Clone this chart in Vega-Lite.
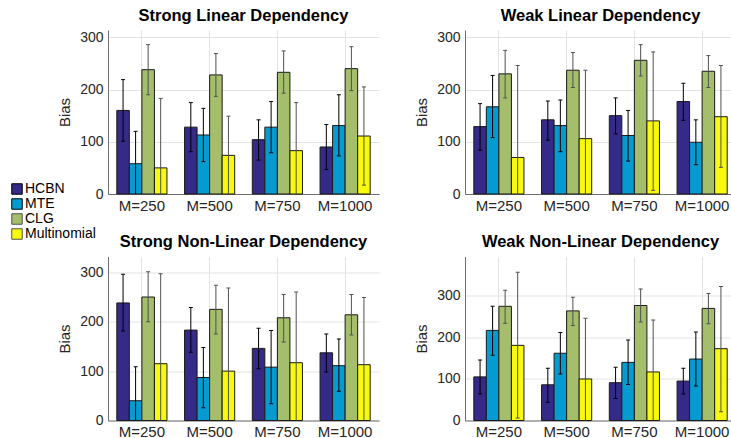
{
  "$schema": "https://vega.github.io/schema/vega-lite/v6.json",
  "padding": {"left": 10, "top": 7, "right": 0, "bottom": 0},
  "background": "white",
  "data": {"values": [
    {"p":"SL","m":"M=250","s":"HCBN","v":160,"lo":101,"hi":219},
    {"p":"SL","m":"M=250","s":"MTE","v":58,"lo":-4,"hi":120},
    {"p":"SL","m":"M=250","s":"CLG","v":238,"lo":190,"hi":286},
    {"p":"SL","m":"M=250","s":"Multinomial","v":50,"lo":-83,"hi":183},
    {"p":"SL","m":"M=500","s":"HCBN","v":128,"lo":81,"hi":175},
    {"p":"SL","m":"M=500","s":"MTE","v":113,"lo":62,"hi":164},
    {"p":"SL","m":"M=500","s":"CLG","v":228,"lo":187,"hi":269},
    {"p":"SL","m":"M=500","s":"Multinomial","v":74,"lo":-1,"hi":149},
    {"p":"SL","m":"M=750","s":"HCBN","v":104,"lo":65,"hi":142},
    {"p":"SL","m":"M=750","s":"MTE","v":128,"lo":79,"hi":177},
    {"p":"SL","m":"M=750","s":"CLG","v":233,"lo":193,"hi":274},
    {"p":"SL","m":"M=750","s":"Multinomial","v":83,"lo":-9,"hi":175},
    {"p":"SL","m":"M=1000","s":"HCBN","v":90,"lo":47,"hi":133},
    {"p":"SL","m":"M=1000","s":"MTE","v":131,"lo":73,"hi":190},
    {"p":"SL","m":"M=1000","s":"CLG","v":240,"lo":198,"hi":282},
    {"p":"SL","m":"M=1000","s":"Multinomial","v":111,"lo":17,"hi":205},
    {"p":"WL","m":"M=250","s":"HCBN","v":129,"lo":84,"hi":173},
    {"p":"WL","m":"M=250","s":"MTE","v":167,"lo":108,"hi":227},
    {"p":"WL","m":"M=250","s":"CLG","v":230,"lo":184,"hi":275},
    {"p":"WL","m":"M=250","s":"Multinomial","v":70,"lo":-105,"hi":246},
    {"p":"WL","m":"M=500","s":"HCBN","v":142,"lo":103,"hi":178},
    {"p":"WL","m":"M=500","s":"MTE","v":131,"lo":81,"hi":180},
    {"p":"WL","m":"M=500","s":"CLG","v":237,"lo":204,"hi":271},
    {"p":"WL","m":"M=500","s":"Multinomial","v":106,"lo":-25,"hi":237},
    {"p":"WL","m":"M=750","s":"HCBN","v":150,"lo":115,"hi":184},
    {"p":"WL","m":"M=750","s":"MTE","v":112,"lo":63,"hi":160},
    {"p":"WL","m":"M=750","s":"CLG","v":256,"lo":226,"hi":286},
    {"p":"WL","m":"M=750","s":"Multinomial","v":140,"lo":7,"hi":272},
    {"p":"WL","m":"M=1000","s":"HCBN","v":177,"lo":141,"hi":212},
    {"p":"WL","m":"M=1000","s":"MTE","v":99,"lo":56,"hi":142},
    {"p":"WL","m":"M=1000","s":"CLG","v":235,"lo":204,"hi":265},
    {"p":"WL","m":"M=1000","s":"Multinomial","v":148,"lo":51,"hi":246},
    {"p":"SNL","m":"M=250","s":"HCBN","v":238,"lo":181,"hi":296},
    {"p":"SNL","m":"M=250","s":"MTE","v":40,"lo":-29,"hi":109},
    {"p":"SNL","m":"M=250","s":"CLG","v":250,"lo":200,"hi":301},
    {"p":"SNL","m":"M=250","s":"Multinomial","v":115,"lo":-67,"hi":297},
    {"p":"SNL","m":"M=500","s":"HCBN","v":183,"lo":138,"hi":229},
    {"p":"SNL","m":"M=500","s":"MTE","v":87,"lo":26,"hi":148},
    {"p":"SNL","m":"M=500","s":"CLG","v":225,"lo":175,"hi":274},
    {"p":"SNL","m":"M=500","s":"Multinomial","v":100,"lo":-67,"hi":268},
    {"p":"SNL","m":"M=750","s":"HCBN","v":146,"lo":105,"hi":187},
    {"p":"SNL","m":"M=750","s":"MTE","v":108,"lo":34,"hi":182},
    {"p":"SNL","m":"M=750","s":"CLG","v":208,"lo":159,"hi":255},
    {"p":"SNL","m":"M=750","s":"Multinomial","v":117,"lo":-27,"hi":260},
    {"p":"SNL","m":"M=1000","s":"HCBN","v":137,"lo":98,"hi":175},
    {"p":"SNL","m":"M=1000","s":"MTE","v":111,"lo":59,"hi":165},
    {"p":"SNL","m":"M=1000","s":"CLG","v":214,"lo":173,"hi":255},
    {"p":"SNL","m":"M=1000","s":"Multinomial","v":113,"lo":-24,"hi":249},
    {"p":"WNL","m":"M=250","s":"HCBN","v":105,"lo":64,"hi":146},
    {"p":"WNL","m":"M=250","s":"MTE","v":217,"lo":157,"hi":275},
    {"p":"WNL","m":"M=250","s":"CLG","v":275,"lo":234,"hi":314},
    {"p":"WNL","m":"M=250","s":"Multinomial","v":181,"lo":6,"hi":357},
    {"p":"WNL","m":"M=500","s":"HCBN","v":86,"lo":44,"hi":126},
    {"p":"WNL","m":"M=500","s":"MTE","v":162,"lo":112,"hi":212},
    {"p":"WNL","m":"M=500","s":"CLG","v":264,"lo":229,"hi":297},
    {"p":"WNL","m":"M=500","s":"Multinomial","v":100,"lo":-47,"hi":246},
    {"p":"WNL","m":"M=750","s":"HCBN","v":91,"lo":53,"hi":128},
    {"p":"WNL","m":"M=750","s":"MTE","v":140,"lo":87,"hi":194},
    {"p":"WNL","m":"M=750","s":"CLG","v":277,"lo":237,"hi":317},
    {"p":"WNL","m":"M=750","s":"Multinomial","v":117,"lo":-8,"hi":242},
    {"p":"WNL","m":"M=1000","s":"HCBN","v":95,"lo":64,"hi":126},
    {"p":"WNL","m":"M=1000","s":"MTE","v":148,"lo":83,"hi":213},
    {"p":"WNL","m":"M=1000","s":"CLG","v":270,"lo":233,"hi":306},
    {"p":"WNL","m":"M=1000","s":"Multinomial","v":173,"lo":21,"hi":323}
  ]},
  "columns": 2,
  "spacing": {"row": 62.5, "column": 86},
  "bounds": "flush",
  "concat": [
    {
      "title": "Strong Linear Dependency",
      "width": 271, "height": 164,
      "transform": [{"filter": "datum.p === 'SL'"}],
      "encoding": {
        "x": {"field": "m", "type": "nominal", "sort": ["M=250","M=500","M=750","M=1000"], "scale": {"paddingInner": 0.26, "paddingOuter": 0.13}, "title": null},
        "xOffset": {"field": "s", "type": "nominal", "sort": ["HCBN","MTE","CLG","Multinomial"], "scale": {"paddingInner": 0, "paddingOuter": 0}}
      },
      "layer": [
        {"mark": {"type": "bar", "stroke": "#1a1a1a", "strokeWidth": 1},
         "encoding": {
           "y": {"field": "v", "type": "quantitative", "scale": {"domain": [0, 314], "nice": false}, "title": "Bias", "axis": {"values": [0, 100, 200, 300]}},
           "fill": {"field": "s", "type": "nominal", "sort": ["HCBN","MTE","CLG","Multinomial"], "scale": {"domain": ["HCBN","MTE","CLG","Multinomial"], "range": ["#352a87","#069bd0","#a5be6b","#f9f90d"]},
             "legend": {"title": null, "orient": "none", "legendX": -98, "legendY": 152, "symbolType": "square", "symbolSize": 110, "symbolStrokeColor": "#000", "symbolStrokeWidth": 1, "symbolOpacity": 1, "labelFontSize": 14, "labelColor": "#000", "rowPadding": -2, "labelOffset": 1, "padding": 0}}
         }},
        {"mark": {"type": "rule", "clip": true, "strokeWidth": 1},
         "encoding": {"y": {"field": "lo", "type": "quantitative"}, "y2": {"field": "hi"},
           "color": {"field": "s", "type": "nominal", "scale": {"domain": ["HCBN","MTE","CLG","Multinomial"], "range": ["#000000","#000000","#505050","#505050"]}, "legend": null}}},
        {"mark": {"type": "tick", "clip": true, "size": 4, "thickness": 1, "orient": "horizontal", "opacity": 1},
         "encoding": {"y": {"field": "hi", "type": "quantitative"},
           "color": {"field": "s", "type": "nominal", "legend": null}}},
        {"mark": {"type": "tick", "clip": true, "size": 4, "thickness": 1, "orient": "horizontal", "opacity": 1},
         "encoding": {"y": {"field": "lo", "type": "quantitative"},
           "color": {"field": "s", "type": "nominal", "legend": null}}}
      ]
    },
    {
      "title": "Weak Linear Dependency",
      "width": 271, "height": 164,
      "transform": [{"filter": "datum.p === 'WL'"}],
      "encoding": {
        "x": {"field": "m", "type": "nominal", "sort": ["M=250","M=500","M=750","M=1000"], "scale": {"paddingInner": 0.26, "paddingOuter": 0.13}, "title": null},
        "xOffset": {"field": "s", "type": "nominal", "sort": ["HCBN","MTE","CLG","Multinomial"], "scale": {"paddingInner": 0, "paddingOuter": 0}}
      },
      "layer": [
        {"mark": {"type": "bar", "stroke": "#1a1a1a", "strokeWidth": 1},
         "encoding": {
           "y": {"field": "v", "type": "quantitative", "scale": {"domain": [0, 314], "nice": false}, "title": "Bias", "axis": {"values": [0, 100, 200, 300]}},
           "fill": {"field": "s", "type": "nominal", "sort": ["HCBN","MTE","CLG","Multinomial"]}
         }},
        {"mark": {"type": "rule", "clip": true, "strokeWidth": 1},
         "encoding": {"y": {"field": "lo", "type": "quantitative"}, "y2": {"field": "hi"},
           "color": {"field": "s", "type": "nominal", "legend": null}}},
        {"mark": {"type": "tick", "clip": true, "size": 4, "thickness": 1, "orient": "horizontal", "opacity": 1},
         "encoding": {"y": {"field": "hi", "type": "quantitative"}, "color": {"field": "s", "type": "nominal", "legend": null}}},
        {"mark": {"type": "tick", "clip": true, "size": 4, "thickness": 1, "orient": "horizontal", "opacity": 1},
         "encoding": {"y": {"field": "lo", "type": "quantitative"}, "color": {"field": "s", "type": "nominal", "legend": null}}}
      ]
    },
    {
      "title": "Strong Non-Linear Dependency",
      "width": 271, "height": 164,
      "transform": [{"filter": "datum.p === 'SNL'"}],
      "encoding": {
        "x": {"field": "m", "type": "nominal", "sort": ["M=250","M=500","M=750","M=1000"], "scale": {"paddingInner": 0.26, "paddingOuter": 0.13}, "title": null},
        "xOffset": {"field": "s", "type": "nominal", "sort": ["HCBN","MTE","CLG","Multinomial"], "scale": {"paddingInner": 0, "paddingOuter": 0}}
      },
      "layer": [
        {"mark": {"type": "bar", "stroke": "#1a1a1a", "strokeWidth": 1},
         "encoding": {
           "y": {"field": "v", "type": "quantitative", "scale": {"domain": [0, 332], "nice": false}, "title": "Bias", "axis": {"values": [0, 100, 200, 300]}},
           "fill": {"field": "s", "type": "nominal", "sort": ["HCBN","MTE","CLG","Multinomial"]}
         }},
        {"mark": {"type": "rule", "clip": true, "strokeWidth": 1},
         "encoding": {"y": {"field": "lo", "type": "quantitative"}, "y2": {"field": "hi"},
           "color": {"field": "s", "type": "nominal", "legend": null}}},
        {"mark": {"type": "tick", "clip": true, "size": 4, "thickness": 1, "orient": "horizontal", "opacity": 1},
         "encoding": {"y": {"field": "hi", "type": "quantitative"}, "color": {"field": "s", "type": "nominal", "legend": null}}},
        {"mark": {"type": "tick", "clip": true, "size": 4, "thickness": 1, "orient": "horizontal", "opacity": 1},
         "encoding": {"y": {"field": "lo", "type": "quantitative"}, "color": {"field": "s", "type": "nominal", "legend": null}}}
      ]
    },
    {
      "title": "Weak Non-Linear Dependency",
      "width": 271, "height": 164,
      "transform": [{"filter": "datum.p === 'WNL'"}],
      "encoding": {
        "x": {"field": "m", "type": "nominal", "sort": ["M=250","M=500","M=750","M=1000"], "scale": {"paddingInner": 0.26, "paddingOuter": 0.13}, "title": null},
        "xOffset": {"field": "s", "type": "nominal", "sort": ["HCBN","MTE","CLG","Multinomial"], "scale": {"paddingInner": 0, "paddingOuter": 0}}
      },
      "layer": [
        {"mark": {"type": "bar", "stroke": "#1a1a1a", "strokeWidth": 1},
         "encoding": {
           "y": {"field": "v", "type": "quantitative", "scale": {"domain": [0, 395], "nice": false}, "title": "Bias", "axis": {"values": [0, 100, 200, 300]}},
           "fill": {"field": "s", "type": "nominal", "sort": ["HCBN","MTE","CLG","Multinomial"]}
         }},
        {"mark": {"type": "rule", "clip": true, "strokeWidth": 1},
         "encoding": {"y": {"field": "lo", "type": "quantitative"}, "y2": {"field": "hi"},
           "color": {"field": "s", "type": "nominal", "legend": null}}},
        {"mark": {"type": "tick", "clip": true, "size": 4, "thickness": 1, "orient": "horizontal", "opacity": 1},
         "encoding": {"y": {"field": "hi", "type": "quantitative"}, "color": {"field": "s", "type": "nominal", "legend": null}}},
        {"mark": {"type": "tick", "clip": true, "size": 4, "thickness": 1, "orient": "horizontal", "opacity": 1},
         "encoding": {"y": {"field": "lo", "type": "quantitative"}, "color": {"field": "s", "type": "nominal", "legend": null}}}
      ]
    }
  ],
  "config": {
    "font": "Liberation Sans",
    "view": {"stroke": null},
    "title": {"fontSize": 16.5, "fontWeight": "bold", "color": "#000000", "frame": "group", "anchor": "middle", "offset": 6, "baseline": "alphabetic"},
    "axisX": {"labelAngle": 0, "ticks": false, "grid": true, "bandPosition": 0.5, "domainColor": "#6e6e6e", "gridColor": "#e3e3e3", "labelFontSize": 15, "labelColor": "#262626", "labelPadding": 4},
    "axisY": {"ticks": false, "grid": true, "domainColor": "#6e6e6e", "gridColor": "#e3e3e3", "labelFontSize": 14, "labelColor": "#262626", "labelPadding": 5, "titleFontSize": 15, "titleFontWeight": "normal", "titleColor": "#262626", "titleX": -39, "titleY": 82, "titleBaseline": "alphabetic", "titleAngle": 270, "titleAlign": "center"}
  }
}
